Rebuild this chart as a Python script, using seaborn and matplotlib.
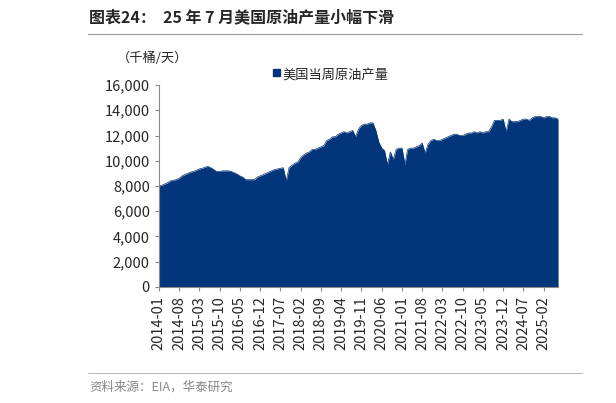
import numpy as np
import pandas as pd
import seaborn as sns
import matplotlib
matplotlib.use('Agg')
import matplotlib.pyplot as plt
import matplotlib.dates as mdates

# 美国当周原油产量 (千桶/天), 按月读数
months = pd.date_range('2014-01-01', '2025-07-01', freq='MS')
prod = [
    8000, 8050, 8150, 8250, 8400, 8450, 8500, 8600, 8800, 8900, 9000, 9100,
    9150, 9250, 9350, 9400, 9500, 9550, 9450, 9300, 9150, 9150, 9200, 9200,
    9200, 9150, 9050, 8950, 8800, 8700, 8500, 8500, 8500, 8500, 8700, 8800,
    8900, 9000, 9100, 9200, 9300, 9350, 9400, 9450, 8400, 9450, 9650, 9800,
    9900, 10250, 10450, 10600, 10700, 10900, 10900, 11000, 11100, 11200, 11600, 11700,
    11900, 11900, 12100, 12200, 12300, 12200, 12300, 12400, 11900, 12500, 12800, 12900,
    12900, 13000, 13000, 12400, 11500, 11000, 10800, 9700, 10700, 10100, 10900, 11000,
    11000, 9700, 10900, 11000, 11000, 11100, 11200, 11400, 10600, 11300, 11600, 11700,
    11600, 11600, 11700, 11800, 11900, 12000, 12100, 12100, 12000, 12000, 12100, 12200,
    12200, 12300, 12200, 12300, 12200, 12300, 12300, 12700, 13200, 13200, 13200, 13300,
    12300, 13300, 13100, 13100, 13100, 13200, 13300, 13300, 13200, 13400, 13500, 13500,
    13500, 13400, 13500, 13500, 13400, 13400, 13300,
]
tick_labels = ['2014-01', '2014-08', '2015-03', '2015-10', '2016-05', '2016-12', '2017-07',
               '2018-02', '2018-09', '2019-04', '2019-11', '2020-06', '2021-01', '2021-08',
               '2022-03', '2022-10', '2023-05', '2023-12', '2024-07', '2025-02']

df = pd.DataFrame({'date': months, 'prod': prod})

sns.set_style('ticks')
plt.rcParams['font.family'] = ['Noto Sans CJK SC', 'DejaVu Sans']
blue = '#03357A'

fig = plt.figure(figsize=(6.16, 4.03), dpi=100)
ax = fig.add_axes([0.258, 0.288, 0.648, 0.501])
sns.lineplot(data=df, x='date', y='prod', ax=ax, color=blue, lw=0.5)
ax.fill_between(df['date'], df['prod'], color=blue, lw=0)
ax.set_xlim(months[0], months[-1])
ax.set_ylim(0, 16000)
ax.set_yticks(range(0, 16001, 2000))
ax.yaxis.set_major_formatter(matplotlib.ticker.FuncFormatter(lambda v, p: f'{int(v):,}'))
ax.set_xticks(pd.to_datetime(tick_labels))
ax.set_xticklabels(tick_labels, rotation=90)
ax.tick_params(labelsize=10.5, length=3, color='#888888')
ax.set_xlabel('')
ax.set_ylabel('')
for s in ['top', 'right']:
    ax.spines[s].set_visible(False)
for s in ['left', 'bottom']:
    ax.spines[s].set_color('#888888')

fig.text(0.19, 0.845, '（千桶/天）', fontsize=9.5)
fig.patches.append(plt.Rectangle((0.443, 0.811), 0.011, 0.017, color=blue,
                                 transform=fig.transFigure, figure=fig))
fig.text(0.458, 0.806, '美国当周原油产量', fontsize=9.5)

fig.text(0.145, 0.945, '图表24：  25 年 7 月美国原油产量小幅下滑', fontsize=11.5, fontweight='bold')
fig.add_artist(plt.Line2D([0.143, 0.945], [0.915, 0.915], color='#999999', lw=0.8))
fig.add_artist(plt.Line2D([0.143, 0.945], [0.075, 0.075], color='#aaaaaa', lw=0.6))
fig.text(0.145, 0.03, '资料来源：EIA，华泰研究', fontsize=9, color='#888888')

fig.savefig('out.png', dpi=100)
